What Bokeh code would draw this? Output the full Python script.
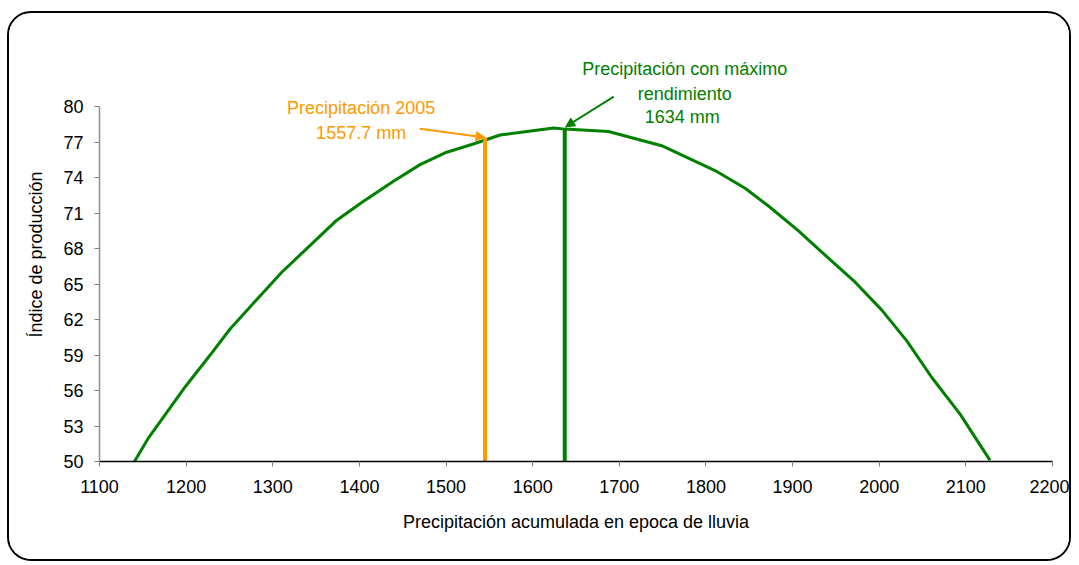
from bokeh.plotting import figure
from bokeh.models import Range1d, FixedTicker, Label, Arrow, NormalHead
from bokeh.embed import file_html
from bokeh.resources import INLINE

# ---- data ----
precip = [1140.4, 1156.6, 1198.8, 1227.7, 1250.7, 1281.6, 1310.4, 1345.0, 1373.9,
          1402.7, 1439.3, 1470.0, 1498.9, 1529.7, 1562.4, 1624.0, 1637.0, 1687.5,
          1748.9, 1810.5, 1845.2, 1872.2, 1906.8, 1933.7, 1970.3, 2003.0, 2031.8,
          2060.7, 2093.3, 2127.9]
indice = [50.0, 52.0, 56.3, 59.0, 61.2, 63.7, 66.0, 68.4, 70.4,
          71.9, 73.7, 75.1, 76.1, 76.8, 77.6, 78.2, 78.1, 77.9,
          76.7, 74.6, 73.1, 71.6, 69.5, 67.7, 65.3, 62.8, 60.2,
          57.1, 54.0, 50.1]

marker_x = [1545.0, 1637.0]       # vertical reference lines (2005, max yield)
marker_top = [77.4, 78.2]
marker_colors = ["#FF9900", "#008000"]

x_ticks = list(range(1100, 2201, 100))
y_ticks = list(range(50, 81, 3))

FONT = "Liberation Sans"
FS = "18px"
GREEN = "#008000"
ORANGE = "#FF9900"

p = figure(width=1064, height=550, output_backend="svg", toolbar_location=None,
           x_range=Range1d(1100, 2200), y_range=Range1d(50, 85),
           min_border_left=90, min_border_right=21, min_border_top=34, min_border_bottom=102)
p.styles = {"border": "2px solid black", "border-radius": "24px", "overflow": "hidden",
            "margin-left": "7px", "margin-top": "11px"}
p.outline_line_color = None
p.xgrid.grid_line_color = None
p.ygrid.grid_line_color = None
p.background_fill_color = "white"
p.border_fill_color = "white"

p.line(precip, indice, line_color=GREEN, line_width=3)
p.segment(x0=marker_x, y0=[50, 50], x1=marker_x, y1=marker_top,
          line_color=marker_colors, line_width=4)

# axes
p.xaxis.ticker = FixedTicker(ticks=x_ticks)
p.yaxis.ticker = FixedTicker(ticks=y_ticks)
p.yaxis.bounds = (50, 80)
for ax in (p.xaxis[0], p.yaxis[0]):
    ax.major_label_text_font = FONT
    ax.major_label_text_font_size = FS
    ax.major_label_text_color = "black"
    ax.axis_label_text_font = FONT
    ax.axis_label_text_font_size = FS
    ax.axis_label_text_font_style = "normal"
    ax.axis_label_text_color = "black"
    ax.major_tick_in = 0
    ax.major_tick_out = 5
    ax.minor_tick_line_color = None
    ax.major_tick_line_color = "#808080"

p.xaxis.axis_line_color = "black"
p.xaxis.axis_line_width = 1.5
p.yaxis.axis_line_color = "#909090"
p.yaxis.axis_line_width = 1.5
p.xaxis.axis_label = "Precipitación acumulada en epoca de lluvia"
p.yaxis.axis_label = "Índice de producción"
p.xaxis.major_label_standoff = 13
p.xaxis.axis_label_standoff = 16
p.yaxis.major_label_standoff = 11
p.yaxis.axis_label_standoff = 14

# annotations
def lab(x, y, t, c):
    p.add_layout(Label(x=x, y=y, text=t, text_color=c, text_font=FONT, text_font_size=FS,
                       text_align="center", text_baseline="middle"))

lab(1402.0, 79.9, "Precipitación 2005", ORANGE)
lab(1402.0, 77.8, "1557.7 mm", ORANGE)
lab(1775.5, 83.2, "Precipitación con máximo", GREEN)
lab(1775.5, 81.1, "rendimiento", GREEN)
lab(1775.5, 79.1, "1634  mm", GREEN)

p.add_layout(Arrow(end=NormalHead(size=9, fill_color=ORANGE, line_color=ORANGE),
                   x_start=1469.7, y_start=78.14, x_end=marker_x[0], y_end=marker_top[0],
                   line_color=ORANGE, line_width=2))
p.add_layout(Arrow(end=NormalHead(size=9, fill_color=GREEN, line_color=GREEN),
                   x_start=1693.6, y_start=80.85, x_end=marker_x[1] + 1, y_end=marker_top[1] + 0.1,
                   line_color=GREEN, line_width=2))

open("out.html", "w").write(file_html(p, INLINE))
